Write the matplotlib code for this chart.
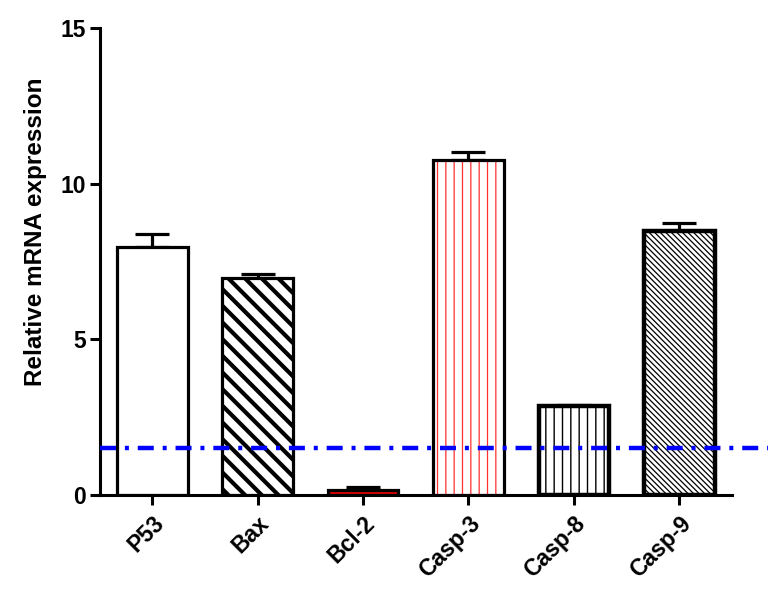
import matplotlib
matplotlib.use("Agg")
import matplotlib.pyplot as plt

plt.rcParams['font.family'] = ['Liberation Sans', 'DejaVu Sans']
plt.rcParams['font.weight'] = 'bold'

categories = ["P53", "Bax", "Bcl-2", "Casp-3", "Casp-8", "Casp-9"]
values = [7.97, 6.97, 0.15, 10.76, 2.85, 8.48]
errors = [0.40, 0.12, 0.10, 0.25, 0.03, 0.25]
threshold = 1.5
yticks = [0, 5, 10, 15]

fig = plt.figure(figsize=(7.83, 5.90), dpi=100)
ax = fig.add_axes([99.5/783, 1-495/590, (732-99.5)/783, (495-28)/590])

x = list(range(len(categories)))
width = 0.67

styles = [
    dict(face="white", hatch=None, hcolor="black", hlw=1.0, lw=2.3),
    dict(face="white", hatch="\\\\", hcolor="black", hlw=3.0, lw=2.3),
    dict(face="#e00000", hatch=None, hcolor="black", hlw=1.0, lw=2.3),
    dict(face="white", hatch="||", hcolor="#ff3030", hlw=0.9, lw=2.3),
    dict(face="white", hatch="||", hcolor="black", hlw=1.0, lw=3.2),
    dict(face="white", hatch="\\\\\\\\\\\\", hcolor="black", hlw=0.9, lw=3.2),
]

for i, (xi, v, e, st) in enumerate(zip(x, values, errors, styles)):
    ax.errorbar(xi, v, yerr=[[0], [e]], fmt='none', ecolor='black',
                elinewidth=2.3, capsize=12, capthick=2.3, zorder=1)
    if st["hatch"]:
        plt.rcParams['hatch.linewidth'] = st["hlw"]
        b = ax.bar(xi, v, width=width, color=st["face"], edgecolor=st["hcolor"],
                   hatch=st["hatch"], linewidth=0, zorder=2)
        for p in b:
            if hasattr(p, "set_hatch_linewidth"):
                p.set_hatch_linewidth(st["hlw"])
        ax.bar(xi, v, width=width, fill=False, edgecolor='black',
               linewidth=st["lw"], zorder=3)
    else:
        ax.bar(xi, v, width=width, color=st["face"], edgecolor='black',
               linewidth=st["lw"], zorder=2)

ax.axhline(threshold, xmin=0, xmax=(768-99.5)/(732-99.5), color='#0000ff',
           linewidth=3.2, linestyle=(0, (3.6, 2.0, 0.9, 2.0)),
           clip_on=False, zorder=4)

ax.set_xlim(-0.5, 5.5)
ax.set_ylim(0, 15)
ax.set_yticks(yticks)
ax.set_xticks(x)
ax.set_xticklabels(categories, rotation=45, ha='right', rotation_mode='anchor',
                   fontsize=16.5, fontweight='bold')
ax.tick_params(axis='y', labelsize=16.5, width=2.2, length=7, pad=3)
ax.tick_params(axis='x', width=2.2, length=7, pad=5)
for lab in ax.get_yticklabels():
    lab.set_fontweight('bold')
ax.set_ylabel("Relative mRNA expression", fontsize=17.5, fontweight='bold')
ax.yaxis.set_label_coords(-0.083, 0.563)

for s in ['top', 'right']:
    ax.spines[s].set_visible(False)
for s in ['left', 'bottom']:
    ax.spines[s].set_linewidth(2.2)

fig.savefig("out.png", dpi=100)
